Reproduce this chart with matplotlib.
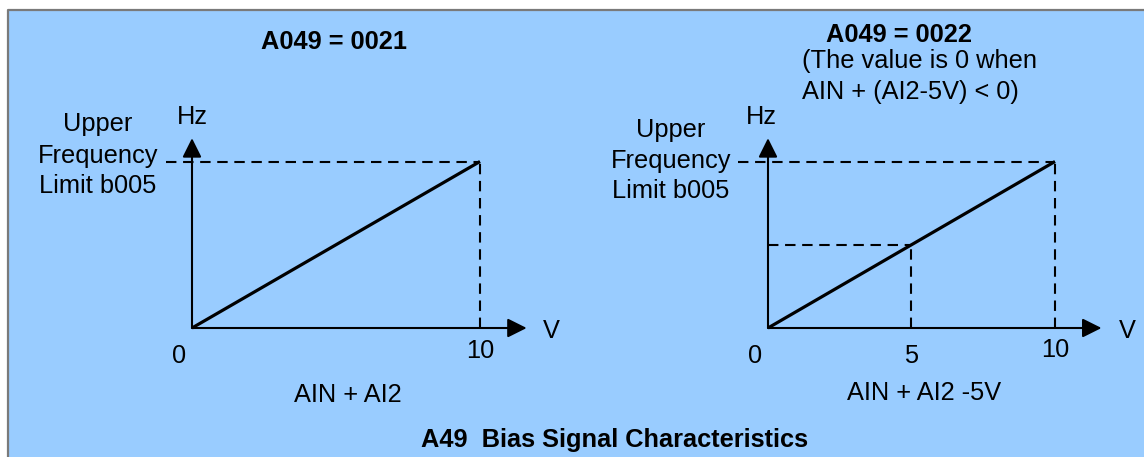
import matplotlib
matplotlib.use("Agg")
import matplotlib.pyplot as plt
from matplotlib.patches import Rectangle
from matplotlib.lines import Line2D

plt.rcParams['font.family'] = ['Liberation Sans', 'DejaVu Sans']

# ---- data -------------------------------------------------------------
V_FULL = 10                       # full-scale input voltage
line_x = [0, 10]                  # input (V)
line_y = [0, 1]                   # output as fraction of upper limit
bias_point_x = 5                  # AIN + AI2 - 5V reference point
bias_point_y = 0.5
ticks_left = [0, 10]
ticks_right = [0, 5, 10]
title_left = "A049 = 0021"
title_right = "A049 = 0022"
note_right = ["(The value is 0 when", "AIN + (AI2-5V) < 0)"]
xlabel_left = "AIN + AI2"
xlabel_right = "AIN + AI2 -5V"
ylimit_label = ["Upper", "Frequency", "Limit b005"]
caption = "A49  Bias Signal Characteristics"

# ---- layout -----------------------------------------------------------
W, H = 1144, 457
fig = plt.figure(figsize=(W / 100, H / 100), dpi=100)
fig.patch.set_facecolor("white")

BG = "#99CCFF"
BORDER = "#7a7a7a"
fig.patches.append(Rectangle((8 / W, 0), 1.0, 1 - 10 / H,
                             transform=fig.transFigure, facecolor=BG,
                             edgecolor="none", zorder=-10))
fig.lines.append(Line2D([8 / W, 8 / W, 1.0], [0, 1 - 10 / H, 1 - 10 / H],
                        transform=fig.transFigure, color=BORDER, lw=1.6,
                        zorder=-9))

Y0, Y1 = 328, 161.5   # pixel rows of output 0 and of the upper limit
FS = 18.3


def px(x, y):
    return x / W, 1 - y / H


def ftext(x, y, s, ha="center", weight="normal"):
    fig.text(*px(x, y), s, ha=ha, va="baseline", fontsize=FS,
             fontweight=weight, color="black")


def make_panel(x0px, x10px):
    sx = (x10px - x0px) / V_FULL
    sy = Y0 - Y1
    xlo, xhi = -1.5, 12.5
    ylo, yhi = -0.25, 1.3
    left = (x0px + xlo * sx) / W
    width = (xhi - xlo) * sx / W
    bottom = (H - (Y0 - ylo * sy)) / H
    height = (yhi - ylo) * sy / H
    ax = fig.add_axes([left, bottom, width, height])
    ax.set_xlim(xlo, xhi)
    ax.set_ylim(ylo, yhi)
    ax.axis("off")
    return ax


def draw_axes_arrows(ax, x_tip, y_tip):
    arrow = dict(arrowstyle="-|>,head_length=0.58,head_width=0.29",
                 mutation_scale=20, lw=1.5, color="black",
                 shrinkA=0, shrinkB=0)
    ax.annotate("", xy=(x_tip, 0), xytext=(0, 0), arrowprops=arrow)
    ax.annotate("", xy=(0, y_tip), xytext=(0, 0), arrowprops=arrow)


dash = dict(color="black", lw=1.5, linestyle=(0, (5, 3.2)))


def tick_label(ax, v, s, dx, dy):
    ax.annotate(s, xy=(v, 0), xytext=(dx, dy), textcoords="offset pixels",
                ha="center", va="baseline", fontsize=FS)


# left panel
axL = make_panel(192, 480)
axL.plot([-0.9, line_x[1]], [line_y[1], line_y[1]], **dash)
axL.plot([line_x[1], line_x[1]], [0, line_y[1]], **dash)
axL.plot(line_x, line_y, color="black", lw=2.3, solid_capstyle="butt")
draw_axes_arrows(axL, 11.62, 1.14)
for v in ticks_left:
    if v == 0:
        tick_label(axL, v, "0", -13, -35)
    else:
        tick_label(axL, v, str(v), 0, -30)

# right panel
axR = make_panel(768, 1055)
axR.plot([-1.05, line_x[1]], [line_y[1], line_y[1]], **dash)
axR.plot([line_x[1], line_x[1]], [0, line_y[1]], **dash)
axR.plot([0, bias_point_x], [bias_point_y, bias_point_y], **dash)
axR.plot([bias_point_x, bias_point_x], [0, bias_point_y], **dash)
axR.plot(line_x, line_y, color="black", lw=2.3, solid_capstyle="butt")
draw_axes_arrows(axR, 11.62, 1.14)
for v in ticks_right:
    if v == 0:
        tick_label(axR, v, "0", -13, -35)
    elif v == 5:
        tick_label(axR, v, "5", 0, -35)
    else:
        tick_label(axR, v, str(v), 0, -29)

# ---- text ---------------------------------------------------------------
ftext(334, 49, title_left, weight="bold")
ftext(899, 42, title_right, weight="bold")
ftext(802, 68, note_right[0], ha="left")
ftext(802, 99, note_right[1], ha="left")

for s, yb in zip(ylimit_label, [131, 163, 193]):
    ftext(98, yb, s)
for s, yb in zip(ylimit_label, [137, 168, 198]):
    ftext(671, yb, s)

ftext(192, 124, "Hz")
ftext(761, 124, "Hz")
ftext(551, 338, "V")
ftext(1127, 338, "V")

ftext(348, 402, xlabel_left)
ftext(924, 400, xlabel_right)
ftext(615, 447, caption, weight="bold")

fig.savefig("out.png", dpi=100, facecolor=fig.get_facecolor())
